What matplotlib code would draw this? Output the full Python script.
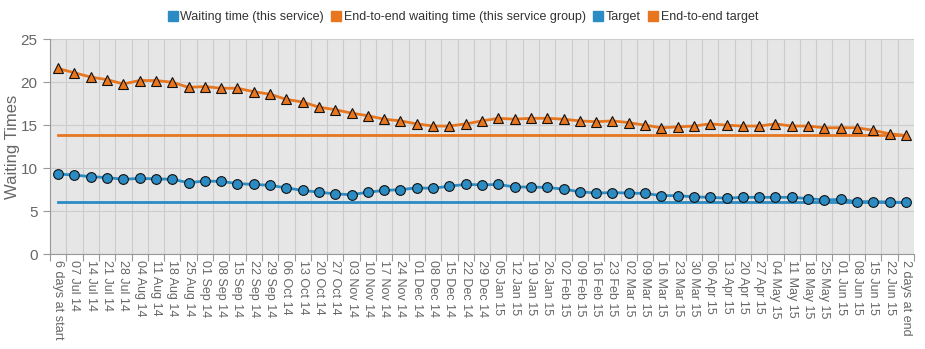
import matplotlib
matplotlib.use("Agg")
import matplotlib.pyplot as plt
import numpy as np
from matplotlib.lines import Line2D

categories = ["6 days at start", "07 Jul 14", "14 Jul 14", "21 Jul 14", "28 Jul 14",
              "04 Aug 14", "11 Aug 14", "18 Aug 14", "25 Aug 14", "01 Sep 14", "08 Sep 14",
              "15 Sep 14", "22 Sep 14", "29 Sep 14", "06 Oct 14", "13 Oct 14", "20 Oct 14",
              "27 Oct 14", "03 Nov 14", "10 Nov 14", "17 Nov 14", "24 Nov 14", "01 Dec 14",
              "08 Dec 14", "15 Dec 14", "22 Dec 14", "29 Dec 14", "05 Jan 15", "12 Jan 15",
              "19 Jan 15", "26 Jan 15", "02 Feb 15", "09 Feb 15", "16 Feb 15", "23 Feb 15",
              "02 Mar 15", "09 Mar 15", "16 Mar 15", "23 Mar 15", "30 Mar 15", "06 Apr 15",
              "13 Apr 15", "20 Apr 15", "27 Apr 15", "04 May 15", "11 May 15", "18 May 15",
              "25 May 15", "01 Jun 15", "08 Jun 15", "15 Jun 15", "22 Jun 15", "2 days at end"]

waiting = [9.3, 9.2, 9.0, 8.9, 8.7, 8.8, 8.75, 8.7, 8.3, 8.5, 8.45, 8.2, 8.1, 8.0, 7.7,
           7.4, 7.2, 7.0, 6.9, 7.2, 7.4, 7.5, 7.7, 7.65, 7.9, 8.1, 8.05, 8.1, 7.8, 7.8,
           7.75, 7.55, 7.25, 7.1, 7.15, 7.1, 7.05, 6.8, 6.8, 6.65, 6.6, 6.5, 6.6, 6.6,
           6.6, 6.6, 6.45, 6.3, 6.35, 6.1, 6.1, 6.05, 6.0]

end_to_end = [21.6, 21.1, 20.6, 20.3, 19.8, 20.2, 20.2, 20.0, 19.4, 19.5, 19.3, 19.3,
              18.9, 18.6, 18.0, 17.7, 17.1, 16.8, 16.4, 16.1, 15.7, 15.5, 15.15, 14.9,
              14.9, 15.15, 15.5, 15.8, 15.7, 15.8, 15.8, 15.7, 15.5, 15.4, 15.5, 15.3,
              15.0, 14.7, 14.8, 14.9, 15.15, 15.0, 14.9, 14.9, 15.15, 14.9, 14.9, 14.7,
              14.7, 14.7, 14.4, 14.0, 13.8]

target = 6.0
end_to_end_target = 13.9

legend_labels = ["Waiting time (this service)", "End-to-end waiting time (this service group)",
                 "Target", "End-to-end target"]

blue = "#2b8cc4"
orange = "#e8761f"
font = "Liberation Sans"

fig = plt.figure(figsize=(9.25, 3.49), dpi=100)
ax = fig.add_axes([50 / 925, 1 - 254 / 349, 864 / 925, (254 - 39.3) / 349])
ax.set_facecolor("#e6e6e6")

n = len(categories)
x = np.arange(n)

ax.plot(x, [target] * n, color=blue, lw=2, zorder=3)
ax.plot(x, [end_to_end_target] * n, color=orange, lw=2, zorder=3)
ax.plot(x, waiting, color=blue, lw=2, marker="o", ms=7, mfc=blue, mec="#111111",
        mew=0.8, zorder=4)
ax.plot(x, end_to_end, color=orange, lw=2, marker="^", ms=7.5, mfc=orange, mec="#111111",
        mew=0.8, zorder=4)

ax.set_xlim(-0.5, n - 0.5)
ax.set_ylim(0, 25)
ax.set_yticks([0, 5, 10, 15, 20, 25])
ax.set_xticks(x)
ax.set_xticklabels(categories, rotation=-90, fontsize=9, color="#666666", fontfamily=font)
ax.set_xticks(np.arange(-0.5, n, 1), minor=True)
ax.tick_params(axis="x", which="major", length=0, pad=4)
ax.tick_params(axis="x", which="minor", length=5, color="#999999", width=0.8)
ax.tick_params(axis="y", length=5, color="#999999", width=0.8, labelsize=11,
               labelcolor="#666666", pad=4)
for lab in ax.get_yticklabels():
    lab.set_fontfamily(font)

ax.grid(which="minor", axis="x", color="#cccccc", lw=0.8)
ax.grid(which="major", axis="y", color="#cccccc", lw=0.8)
ax.set_axisbelow(True)

for s in ["top", "right"]:
    ax.spines[s].set_visible(False)
for s in ["left", "bottom"]:
    ax.spines[s].set_color("#999999")
    ax.spines[s].set_linewidth(0.8)

ax.set_ylabel("Waiting Times", fontsize=12, color="#666666", fontfamily=font)
ax.yaxis.set_label_coords(-30 / 864, 0.5)

handles = [Line2D([], [], marker="s", ls="", color=c, ms=6.5)
           for c in (blue, orange, blue, orange)]
fig.legend(handles, legend_labels, loc="upper center", bbox_to_anchor=(0.5, 1.0), ncol=4,
           frameon=False, handletextpad=0.1, columnspacing=0.5, handlelength=1.0,
           prop={"family": font, "size": 9}, labelcolor="#333333")

fig.savefig("out.png", dpi=100)
